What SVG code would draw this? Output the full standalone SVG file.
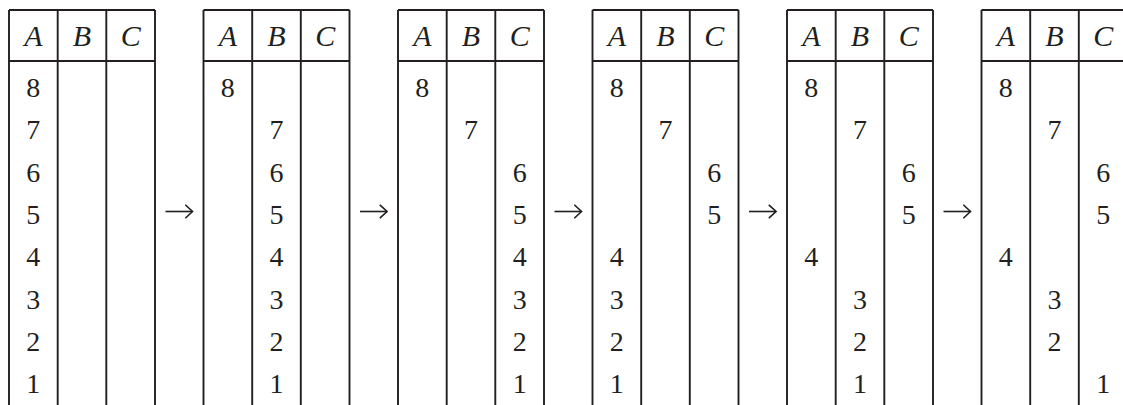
<svg xmlns="http://www.w3.org/2000/svg" width="1123" height="405" viewBox="0 0 1123 405">
<style>
.ln{stroke:#231f20;stroke-width:1.9;fill:none}
.h{font-family:"Liberation Serif","Times New Roman",serif;font-style:italic;font-size:30px;fill:#231f20;text-anchor:middle}
.d{font-family:"Liberation Serif","Times New Roman",serif;font-size:28px;fill:#231f20;text-anchor:middle}
.ar{stroke:#231f20;stroke-width:1.6;fill:none;marker-end:url(#head)}
</style>
<defs>
<marker id="head" viewBox="0 0 9 15" refX="8" refY="7.5" markerWidth="9" markerHeight="15" markerUnits="userSpaceOnUse" orient="auto">
<path d="M0.8,0.8L8,7.5L0.8,14.2" fill="none" stroke="#231f20" stroke-width="1.6"/>
</marker>
<g id="grid">
<path class="ln" d="M0,10H146M0,61H146M0,10V405M48.7,10V405M97.3,10V405M146,10V405"/>
<text class="h" x="24.3" y="46">A</text>
<text class="h" x="73" y="46">B</text>
<text class="h" x="121.7" y="46">C</text>
</g>
</defs>
<rect width="1123" height="405" fill="#ffffff"/>
<g id="table1" transform="translate(9,0)">
<use href="#grid"/>
<text class="d" x="24.3" y="97">8</text><text class="d" x="24.3" y="139.3">7</text><text class="d" x="24.3" y="181.6">6</text><text class="d" x="24.3" y="224">5</text><text class="d" x="24.3" y="266.3">4</text><text class="d" x="24.3" y="308.6">3</text><text class="d" x="24.3" y="351">2</text><text class="d" x="24.3" y="393">1</text>
</g>
<g id="table2" transform="translate(203.5,0)">
<use href="#grid"/>
<text class="d" x="24.3" y="97">8</text><text class="d" x="73" y="139.3">7</text><text class="d" x="73" y="181.6">6</text><text class="d" x="73" y="224">5</text><text class="d" x="73" y="266.3">4</text><text class="d" x="73" y="308.6">3</text><text class="d" x="73" y="351">2</text><text class="d" x="73" y="393">1</text>
</g>
<g id="table3" transform="translate(398,0)">
<use href="#grid"/>
<text class="d" x="24.3" y="97">8</text><text class="d" x="73" y="139.3">7</text><text class="d" x="121.7" y="181.6">6</text><text class="d" x="121.7" y="224">5</text><text class="d" x="121.7" y="266.3">4</text><text class="d" x="121.7" y="308.6">3</text><text class="d" x="121.7" y="351">2</text><text class="d" x="121.7" y="393">1</text>
</g>
<g id="table4" transform="translate(592.5,0)">
<use href="#grid"/>
<text class="d" x="24.3" y="97">8</text><text class="d" x="73" y="139.3">7</text><text class="d" x="121.7" y="181.6">6</text><text class="d" x="121.7" y="224">5</text><text class="d" x="24.3" y="266.3">4</text><text class="d" x="24.3" y="308.6">3</text><text class="d" x="24.3" y="351">2</text><text class="d" x="24.3" y="393">1</text>
</g>
<g id="table5" transform="translate(787,0)">
<use href="#grid"/>
<text class="d" x="24.3" y="97">8</text><text class="d" x="73" y="139.3">7</text><text class="d" x="121.7" y="181.6">6</text><text class="d" x="121.7" y="224">5</text><text class="d" x="24.3" y="266.3">4</text><text class="d" x="73" y="308.6">3</text><text class="d" x="73" y="351">2</text><text class="d" x="73" y="393">1</text>
</g>
<g id="table6" transform="translate(981.5,0)">
<use href="#grid"/>
<text class="d" x="24.3" y="97">8</text><text class="d" x="73" y="139.3">7</text><text class="d" x="121.7" y="181.6">6</text><text class="d" x="121.7" y="224">5</text><text class="d" x="24.3" y="266.3">4</text><text class="d" x="73" y="308.6">3</text><text class="d" x="73" y="351">2</text><text class="d" x="121.7" y="393">1</text>
</g>
<g id="connectors">
<path class="ar" d="M165.5,211.5H192.5"/>
<path class="ar" d="M360,211.5H387"/>
<path class="ar" d="M554.5,211.5H581.5"/>
<path class="ar" d="M749,211.5H776"/>
<path class="ar" d="M943.5,211.5H970.5"/>
</g>
</svg>
